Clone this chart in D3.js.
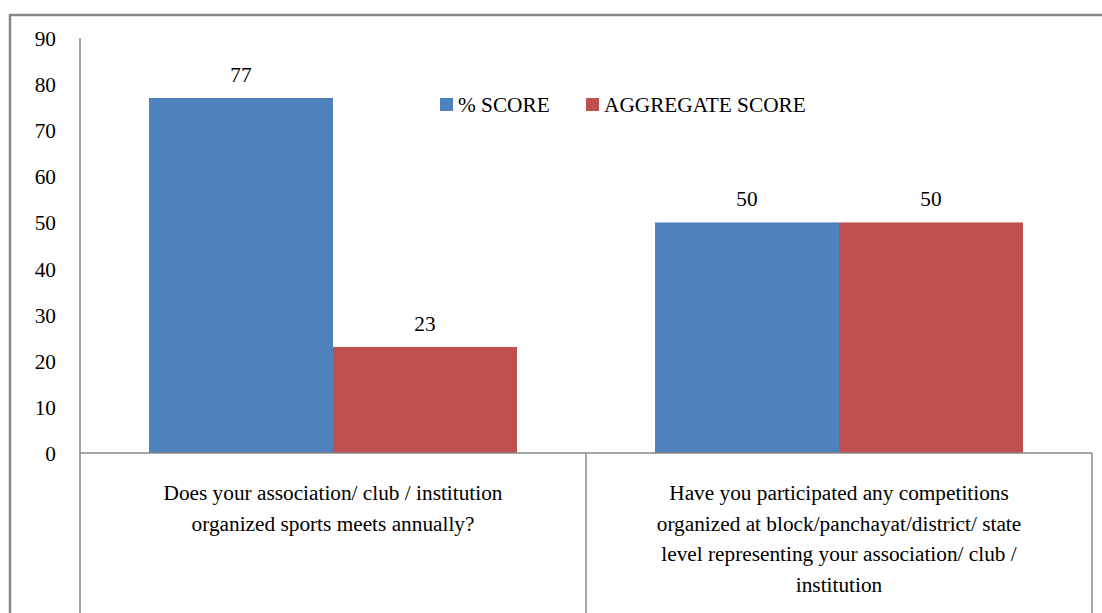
<!DOCTYPE html>
<html><head><meta charset="utf-8">
<script src="https://cdn.jsdelivr.net/npm/d3@7"></script>
<style>html,body{margin:0;padding:0}</style>
</head><body><svg id="c" width="1102" height="613"></svg>
<script>
const categories = [
  ["Does your association/ club / institution", "organized sports meets annually?"],
  ["Have you participated any competitions", "organized at block/panchayat/district/ state", "level representing your association/ club /", "institution"]
];
const seriesNames = ["% SCORE", "AGGREGATE SCORE"];
const pctScore = [77, 50];
const aggScore = [23, 50];
const yTicks = [0,10,20,30,40,50,60,70,80,90];
const colors = ["#4F81BD", "#C0504D"];

const FONT = '"Times New Roman", Tinos, "Liberation Serif", Times, serif';
const FS = "21.3px";
const svg = d3.select("#c");
const pLeft = 80, pRight = 1092, pTop = 38, pBottom = 453;
const x = d3.scaleBand().domain(d3.range(categories.length)).range([pLeft, pRight]).paddingInner(0).paddingOuter(0);
const barW = x.bandwidth()*0.3636;
const pad = (x.bandwidth() - 2*barW)/2;
const y = d3.scaleLinear().domain([0,90]).range([pBottom, pTop]);

function styleText(sel) {
  return sel.attr("font-family", FONT).style("font-family", FONT)
    .attr("font-size", FS).style("font-size", FS).attr("fill", "#000");
}

// outer border
svg.append("path").attr("d", "M10,613 V15 H1102").attr("fill","none").attr("stroke","#888").attr("stroke-width",2.5);

const series = [pctScore, aggScore];
series.forEach((vals, s) => {
  svg.selectAll(null).data(vals).enter().append("rect")
    .attr("x", (d,i) => x(i) + pad + s*barW)
    .attr("y", d => y(d))
    .attr("width", barW)
    .attr("height", d => y(0) - y(d))
    .attr("fill", colors[s]);
  styleText(svg.selectAll(null).data(vals).enter().append("text")
    .attr("x", (d,i) => x(i) + pad + s*barW + barW/2)
    .attr("y", d => y(d) - 16)
    .attr("text-anchor","middle"))
    .text(d => d);
});

// y axis
const yAxis = d3.axisLeft(y).tickValues(yTicks).tickSize(0).tickPadding(24);
const ga = svg.append("g").attr("transform", `translate(${pLeft},0)`).call(yAxis);
ga.attr("font-family", FONT).attr("font-size", FS);
ga.select(".domain").remove();
styleText(ga.selectAll("text")).attr("dy","0.35em");
svg.append("line").attr("x1",pLeft).attr("x2",pLeft).attr("y1",pTop).attr("y2",613).attr("stroke","#888").attr("stroke-width",1.5);

// x axis line and category separators
svg.append("line").attr("x1",pLeft).attr("x2",pRight).attr("y1",pBottom).attr("y2",pBottom).attr("stroke","#888").attr("stroke-width",1.5);
categories.forEach((c,i) => {
  svg.append("line").attr("x1", x(i)+x.bandwidth()).attr("x2", x(i)+x.bandwidth())
    .attr("y1", pBottom).attr("y2", 613).attr("stroke","#888").attr("stroke-width",1.5);
  const t = styleText(svg.append("text").attr("text-anchor","middle"));
  c.forEach((line, j) => {
    t.append("tspan").attr("x", x(i)+x.bandwidth()/2).attr("y", 500 + j*30.5).text(line);
  });
});

// legend
const lg = svg.append("g");
const legendX = [440, 586];
seriesNames.forEach((n, s) => {
  lg.append("rect").attr("x", legendX[s]).attr("y", 98).attr("width", 13).attr("height", 13).attr("fill", colors[s]);
  styleText(lg.append("text").attr("x", legendX[s]+18).attr("y", 112)).text(n);
});
</script></body></html>
